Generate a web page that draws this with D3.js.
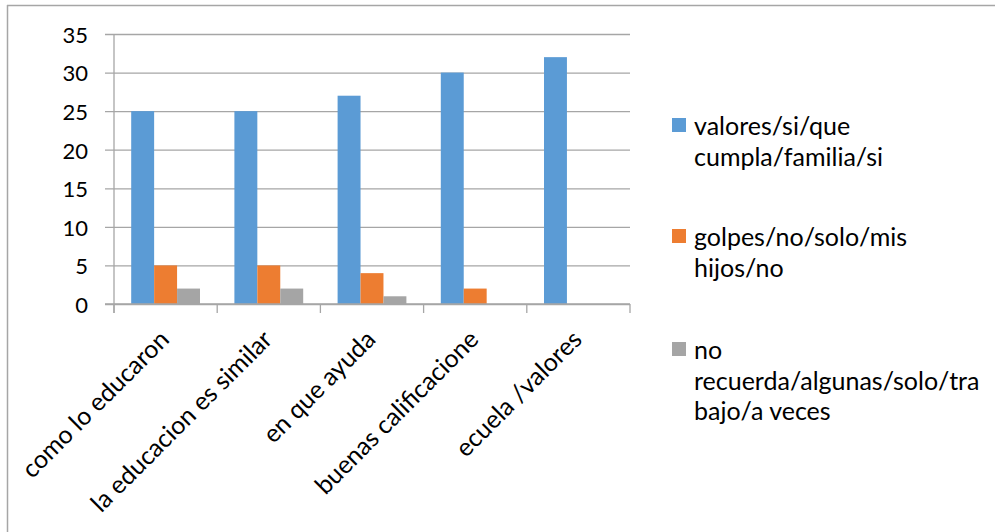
<!DOCTYPE html>
<html>
<head>
<meta charset="utf-8">
<script src="https://cdn.jsdelivr.net/npm/d3@7/dist/d3.min.js"></script>
<style>
  html, body { margin: 0; padding: 0; background: #fff; }
  svg { display: block; }
  text { font-family: Lato, "Open Sans", sans-serif; fill: #000; }
</style>
</head>
<body>
<svg id="chart" width="995" height="532"></svg>
<script>
// ---- data ----
const categories = ["como lo educaron", "la educacion es similar", "en que ayuda", "buenas calificacione", "ecuela /valores"];
const seriesNames = ["valores/si/que cumpla/familia/si", "golpes/no/solo/mis hijos/no", "no recuerda/algunas/solo/trabajo/a veces"];
const legendLines = [["valores/si/que", "cumpla/familia/si"], ["golpes/no/solo/mis", "hijos/no"], ["no", "recuerda/algunas/solo/tra", "bajo/a veces"]];
const valores = [25, 25, 27, 30, 32];
const golpes = [5, 5, 4, 2, 0];
const noRecuerda = [2, 2, 1, 0, 0];
const yTicks = [0, 5, 10, 15, 20, 25, 30, 35];
const colors = ["#5b9bd5", "#ed7d31", "#a5a5a5"];

const seriesValues = [valores, golpes, noRecuerda];

const svg = d3.select("#chart");
const plot = { left: 114, right: 630, top: 34, bottom: 304 };
const gridColor = "#a6a6a6";
const textSize = 25;

// frame (top and left border)
svg.append("line").attr("x1", 7).attr("x2", 995).attr("y1", 5.5).attr("y2", 5.5)
  .attr("stroke", "#a6a6a6").attr("stroke-width", 1.5);
svg.append("line").attr("x1", 7.5).attr("x2", 7.5).attr("y1", 5).attr("y2", 532)
  .attr("stroke", "#a6a6a6").attr("stroke-width", 1.5);

const x = d3.scaleBand().domain(categories).range([plot.left, plot.right]).paddingInner(0).paddingOuter(0);
const y = d3.scaleLinear().domain([0, 35]).range([plot.bottom, plot.top]);
const bw = x.bandwidth();
const barW = bw / 4.5;
const x1 = d3.scaleBand().domain(d3.range(seriesNames.length))
  .range([(bw - 3 * barW) / 2, (bw + 3 * barW) / 2]);

// gridlines + y axis ticks
const yAxis = d3.axisLeft(y).tickValues(yTicks).tickSize(plot.right - plot.left + 9).tickFormat(d3.format("d"));
const gy = svg.append("g").attr("transform", `translate(${plot.right},0)`).call(yAxis);
gy.select(".domain").remove();
gy.selectAll(".tick line").attr("stroke", gridColor).attr("stroke-width", 1.3);
gy.selectAll(".tick text").attr("font-size", 22).attr("fill", "#000")
  .attr("x", plot.left - 26 - plot.right).attr("dy", "0.38em");

// y axis line
svg.append("line").attr("x1", plot.left).attr("x2", plot.left)
  .attr("y1", y(35)).attr("y2", plot.bottom + 9)
  .attr("stroke", gridColor).attr("stroke-width", 1.3);

// bars
const groups = svg.append("g").selectAll("g").data(categories).join("g")
  .attr("transform", d => `translate(${x(d)},0)`);
groups.selectAll("rect")
  .data((d, i) => seriesValues.map((vals, s) => ({ s, v: vals[i] })))
  .join("rect")
  .attr("x", d => x1(d.s))
  .attr("width", x1.bandwidth())
  .attr("y", d => y(d.v))
  .attr("height", d => y(0) - y(d.v))
  .attr("fill", d => colors[d.s]);

// x axis line and boundary ticks
svg.append("line").attr("x1", plot.left - 9).attr("x2", plot.right)
  .attr("y1", plot.bottom).attr("y2", plot.bottom)
  .attr("stroke", gridColor).attr("stroke-width", 1.3);
const boundaries = categories.map(c => x(c)).concat([plot.right]);
svg.append("g").selectAll("line").data(boundaries).join("line")
  .attr("x1", d => d).attr("x2", d => d)
  .attr("y1", plot.bottom).attr("y2", plot.bottom + 9)
  .attr("stroke", gridColor).attr("stroke-width", 1.3);

// x labels
svg.append("g").selectAll("text").data(categories).join("text")
  .attr("transform", d => `translate(${x(d) + bw / 2 + 5},${plot.bottom + 37}) rotate(-45)`)
  .attr("text-anchor", "end")
  .attr("font-size", textSize)
  .text(d => d);

// legend
const legendTop = [135, 246, 359];
const leg = svg.append("g").selectAll("g").data(seriesNames).join("g")
  .attr("transform", (d, i) => `translate(672,${legendTop[i]})`);
leg.append("rect").attr("x", 0).attr("y", -17).attr("width", 14).attr("height", 14)
  .attr("fill", (d, i) => colors[i]);
leg.append("text").attr("x", 22).attr("y", 0).attr("font-size", textSize)
  .selectAll("tspan").data((d, i) => legendLines[i]).join("tspan")
  .attr("x", 22).attr("dy", (d, j) => j === 0 ? 0 : 30.5)
  .text(d => d);
</script>
</body>
</html>
